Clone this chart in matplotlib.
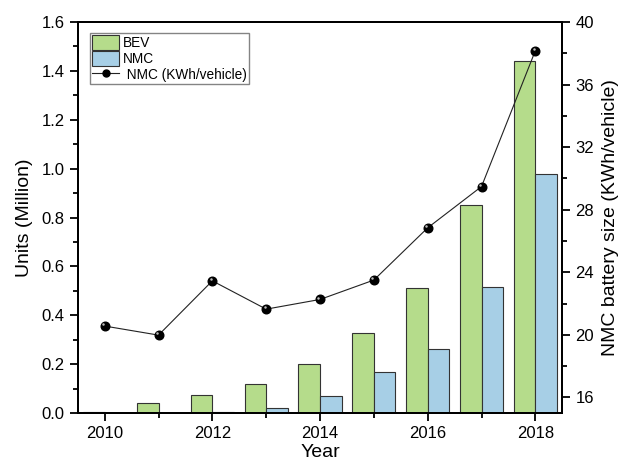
import matplotlib
matplotlib.use("Agg")
import matplotlib.pyplot as plt
from matplotlib.ticker import MultipleLocator
from matplotlib.lines import Line2D
from matplotlib.patches import Patch
import numpy as np

plt.rcParams['font.family'] = ['Liberation Sans', 'DejaVu Sans']

years = [2010, 2011, 2012, 2013, 2014, 2015, 2016, 2017, 2018]
bev_units = [0.005, 0.04, 0.072, 0.119, 0.199, 0.326, 0.51, 0.85, 1.44]
nmc_units = [0.0, 0.0, 0.005, 0.022, 0.071, 0.169, 0.263, 0.516, 0.978]
nmc_kwh = [20.56, 19.98, 23.45, 21.64, 22.26, 23.5, 26.84, 29.48, 38.17]

bev_color = '#b5dc8b'
nmc_color = '#a7cfe6'
edge_color = '#333333'

fig = plt.figure(figsize=(6.22, 4.68), dpi=100)
ax = fig.add_axes([0.125, 0.1175, 0.779, 0.8355])
ax2 = ax.twinx()

x = np.array(years, dtype=float)
w = 0.4
ax.bar(x - w / 2, bev_units, width=w, color=bev_color, edgecolor=edge_color,
       linewidth=0.8, zorder=2)
ax.bar(x + w / 2, nmc_units, width=w, color=nmc_color, edgecolor=edge_color,
       linewidth=0.8, zorder=2)

ax2.plot(x, nmc_kwh, color='#222222', linewidth=0.8, marker='o', markersize=6.2,
         markerfacecolor='black', markeredgecolor='black', zorder=3)
# small specular highlight on each marker
ax2.plot(x - 0.03, np.array(nmc_kwh) + 0.12, linestyle='none', marker='o',
         markersize=1.8, markerfacecolor='#bbbbbb', markeredgewidth=0,
         zorder=4)

ax.set_xlim(2009.5, 2018.5)
ax.set_ylim(0, 1.6)
ax2.set_ylim(15, 40)

ax.xaxis.set_major_locator(MultipleLocator(2))
ax.xaxis.set_minor_locator(MultipleLocator(1))
ax.yaxis.set_major_locator(MultipleLocator(0.2))
ax.yaxis.set_minor_locator(MultipleLocator(0.1))
ax2.yaxis.set_major_locator(MultipleLocator(4))
ax2.yaxis.set_minor_locator(MultipleLocator(2))
ax.yaxis.set_major_formatter(plt.FuncFormatter(lambda v, p: f"{v:.1f}"))

for a in (ax, ax2):
    for s in a.spines.values():
        s.set_linewidth(1.4)
    a.tick_params(which='major', direction='out', length=6, width=1.3,
                  labelsize=12)
    a.tick_params(which='minor', direction='out', length=3.5, width=1.3)
ax.tick_params(axis='x', which='both', top=False)
ax.tick_params(axis='y', which='both', right=False)

ax.set_xlabel('Year', fontsize=14, labelpad=2)
ax.set_ylabel('Units (Million)', fontsize=14, labelpad=6)
ax2.set_ylabel('NMC battery size (KWh/vehicle)', fontsize=14, labelpad=6)

handles = [
    Patch(facecolor=bev_color, edgecolor=edge_color, linewidth=0.8),
    Patch(facecolor=nmc_color, edgecolor=edge_color, linewidth=0.8),
    Line2D([], [], color='#222222', linewidth=0.8, marker='o', markersize=5,
           markerfacecolor='black', markeredgecolor='black'),
]
labels = ['BEV', 'NMC', ' NMC (KWh/vehicle)']
leg = ax2.legend(handles, labels, loc='upper left',
                 bbox_to_anchor=(0.025, 0.973), borderaxespad=0,
                 fontsize=9.8, frameon=True, fancybox=False,
                 edgecolor='#666666', handlelength=2.0, handleheight=1.35,
                 labelspacing=0.05, handletextpad=0.3, borderpad=0.15)
leg.get_frame().set_linewidth(1.0)

fig.savefig('out.png', dpi=100)
